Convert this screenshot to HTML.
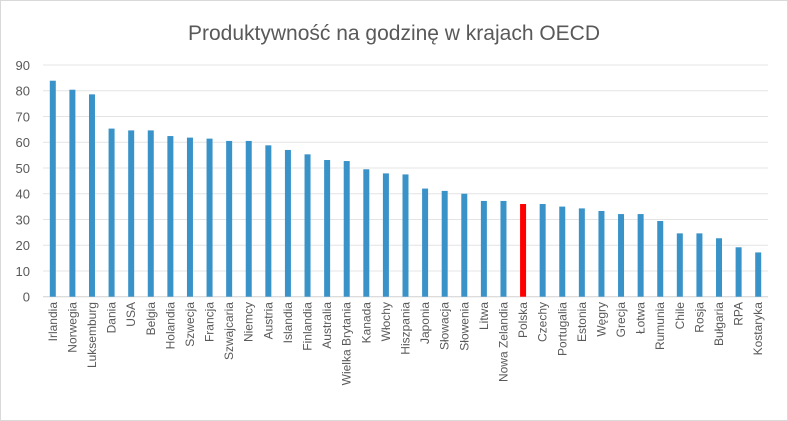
<!DOCTYPE html>
<html><head><meta charset="utf-8"><style>
body{margin:0;background:#fff;}
svg{display:block;font-family:"Liberation Sans",sans-serif;}
</style></head><body>
<svg id="chart" width="788" height="421">
<rect x="0.5" y="0.5" width="787" height="420" fill="#fff" stroke="#d9d9d9"/>
<text x="394" y="40" text-anchor="middle" font-size="21" fill="#595959">Produktywność na godzinę w krajach OECD</text>
<g id="grid"></g><g id="bars"></g><g id="labels"></g>
</svg>
<script>
const categories=["Irlandia","Norwegia","Luksemburg","Dania","USA","Belgia","Holandia","Szwecja","Francja","Szwajcaria","Niemcy","Austria","Islandia","Finlandia","Australia","Wielka Brytania","Kanada","Włochy","Hiszpania","Japonia","Słowacja","Słowenia","Litwa","Nowa Zelandia","Polska","Czechy","Portugalia","Estonia","Węgry","Grecja","Łotwa","Rumunia","Chile","Rosja","Bułgaria","RPA","Kostaryka"];
const values=[83.9,80.4,78.6,65.3,64.6,64.6,62.4,61.8,61.4,60.5,60.5,58.8,57.0,55.3,53.1,52.7,49.5,47.9,47.5,42.0,41.1,40.0,37.2,37.2,36.0,36.0,35.0,34.3,33.3,32.1,32.1,29.4,24.6,24.6,22.7,19.2,17.2];
const yTicks=[0,10,20,30,40,50,60,70,80,90];
const highlight="Polska";
const NS="http://www.w3.org/2000/svg";
const x0=43,x1=768,yBase=296.7,yTop=65,yMax=90;
const band=(x1-x0)/categories.length;
const xc=i=>x0+band*(i+0.5);
const ys=v=>yBase-(yBase-yTop)*v/yMax;
const grid=document.getElementById('grid'),bars=document.getElementById('bars'),labels=document.getElementById('labels');
yTicks.forEach(t=>{
  const l=document.createElementNS(NS,'line');
  l.setAttribute('x1',x0);l.setAttribute('x2',x1);l.setAttribute('y1',ys(t));l.setAttribute('y2',ys(t));
  l.setAttribute('stroke',t===0?'#d0d0d0':'#e4e4e4');l.setAttribute('stroke-width','1');
  
  
  grid.appendChild(l);
  const tx=document.createElementNS(NS,'text');
  tx.setAttribute('x',30);tx.setAttribute('y',ys(t)+5);tx.setAttribute('text-anchor','end');
  tx.setAttribute('font-size','13');tx.setAttribute('fill','#595959');tx.textContent=t;
  
  
  grid.appendChild(tx);
});
categories.forEach((c,i)=>{
  const r=document.createElementNS(NS,'rect');
  const w=6;
  r.setAttribute('x',xc(i)-w/2);r.setAttribute('width',w);
  r.setAttribute('y',ys(values[i]));r.setAttribute('height',yBase-ys(values[i]));
  r.setAttribute('fill',c===highlight?'#ff0000':'#3a93c8');
  
  
  bars.appendChild(r);
  const t=document.createElementNS(NS,'text');
  const lx=xc(i)+4,ly=302;
  t.setAttribute('x',lx);t.setAttribute('y',ly);t.setAttribute('text-anchor','end');
  t.setAttribute('transform','rotate(-90 '+lx+' '+ly+')');
  t.setAttribute('font-size','12');t.setAttribute('fill','#595959');t.textContent=c;
  
  
  labels.appendChild(t);
});
</script>
</body></html>
